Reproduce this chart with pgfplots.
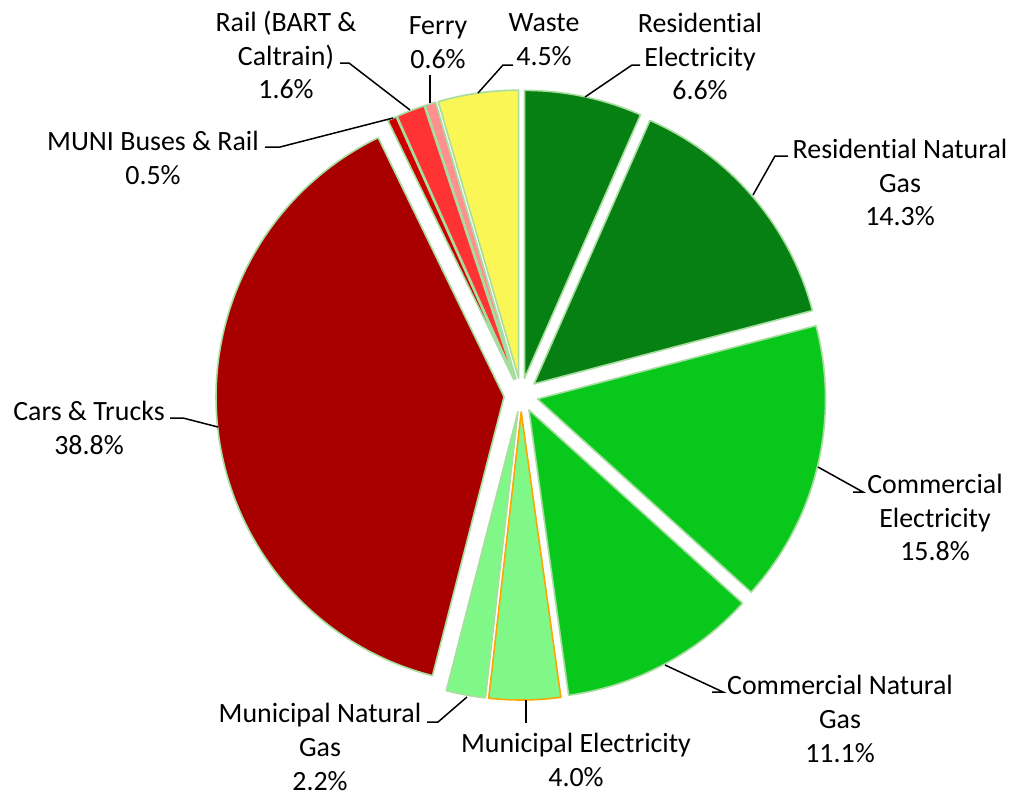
\documentclass[border=0pt]{standalone}
\usepackage{pgfplots}
\usepackage{pgfplotstable}
\pgfplotsset{compat=1.18}
\usepackage{fontspec}
\setmainfont{Carlito}[Ligatures=NoCommon]

\definecolor{resid}{RGB}{6,128,18}
\definecolor{comm}{RGB}{8,200,28}
\definecolor{muni}{RGB}{128,248,136}
\definecolor{cars}{RGB}{168,0,0}
\definecolor{munired}{RGB}{204,0,0}
\definecolor{rail}{RGB}{255,51,51}
\definecolor{ferry}{RGB}{255,144,144}
\definecolor{waste}{RGB}{250,246,85}
\definecolor{pieedge}{RGB}{168,221,160}
\definecolor{munedge}{RGB}{255,165,0}

% value = share of emissions (%), clockwise from 12 o'clock
\pgfplotstableread{
name     value fill    edge
ResElec  6.6   resid   pieedge
ResGas   14.3  resid   pieedge
ComElec  15.8  comm    pieedge
ComGas   11.1  comm    pieedge
MunElec  4.0   muni    munedge
MunGas   2.2   muni    pieedge
Cars     38.8  cars    pieedge
MUNI     0.5   munired pieedge
Rail     1.6   rail    pieedge
Ferry    0.6   ferry   pieedge
Waste    4.5   waste   pieedge
}\piedata

\begin{document}
\begin{tikzpicture}[font=\fontsize{28}{34}\selectfont]
\useasboundingbox (0,0) rectangle (1011bp,796bp);
\begin{axis}[
  at={(0,0)}, anchor=south west,
  x=1bp, y=1bp, xmin=0, xmax=1011, ymin=0, ymax=796,
  y dir=reverse, hide axis, clip=false,
]
\xdef\cum{0}
\pgfplotsinvokeforeach{0,...,10}{
  \pgfplotstablegetelem{#1}{value}\of\piedata \let\val\pgfplotsretval
  \pgfplotstablegetelem{#1}{fill}\of\piedata \let\fc\pgfplotsretval
  \pgfplotstablegetelem{#1}{edge}\of\piedata \let\ec\pgfplotsretval
  \pgfmathsetmacro{\sa}{90-3.6*\cum}
  \pgfmathsetmacro{\ea}{90-3.6*(\cum+\val)}
  \pgfmathsetmacro{\ma}{(\sa+\ea)/2}
  \pgfmathsetmacro{\newcum}{\cum+\val}
  \xdef\cum{\newcum}
  \edef\temp{\noexpand\filldraw[fill=\fc, draw=\ec, line width=1.6bp, line join=round]
    (axis cs:521,395) ++(\ma:17bp) -- ++(\sa:288bp)
    arc[start angle=\sa, end angle=\ea, radius=288bp] -- cycle;}
  \temp
}
% leader lines
\begin{scope}[line width=1.5bp, black]
\draw (axis cs:478,93) -- (axis cs:503,65) -- (axis cs:513,65);
\draw (axis cs:430,103) -- (axis cs:430,75);
\draw (axis cs:410,110) -- (axis cs:349,63) -- (axis cs:340,63);
\draw (axis cs:393,118) -- (axis cs:280,147) -- (axis cs:265,147);
\draw (axis cs:218,427) -- (axis cs:183,418) -- (axis cs:170,418);
\draw (axis cs:467,697) -- (axis cs:438,722) -- (axis cs:427,722);
\draw (axis cs:526,700) -- (axis cs:526,723);
\draw (axis cs:665,665) -- (axis cs:723,692) -- (axis cs:712,692);
\draw (axis cs:818,467) -- (axis cs:863,492) -- (axis cs:853,492);
\draw (axis cs:753,195) -- (axis cs:775,156) -- (axis cs:788,156);
\draw (axis cs:585,97) -- (axis cs:632,65) -- (axis cs:640,65);
\end{scope}
% labels
\begin{scope}[every node/.style={align=center, inner sep=0pt, text=black}]
\node at (axis cs:700,56.5) {Residential\\Electricity\\6.6\%};
\node at (axis cs:900,182.5) {Residential Natural\\Gas\\14.3\%};
\node at (axis cs:935,517.5) {Commercial\\Electricity\\15.8\%};
\node at (axis cs:840,719) {Commercial Natural\\Gas\\11.1\%};
\node at (axis cs:576,759.5) {Municipal Electricity\\4.0\%};
\node at (axis cs:320,747) {Municipal Natural\\Gas\\2.2\%};
\node at (axis cs:89,427.5) {Cars \& Trucks\\38.8\%};
\node at (axis cs:153,157.5) {MUNI Buses \& Rail\\0.5\%};
\node at (axis cs:286,55) {Rail (BART \&\\Caltrain)\\1.6\%};
\node at (axis cs:438,42.5) {Ferry\\0.6\%};
\node at (axis cs:544,39.5) {Waste\\4.5\%};
\end{scope}
\end{axis}
\end{tikzpicture}
\end{document}
